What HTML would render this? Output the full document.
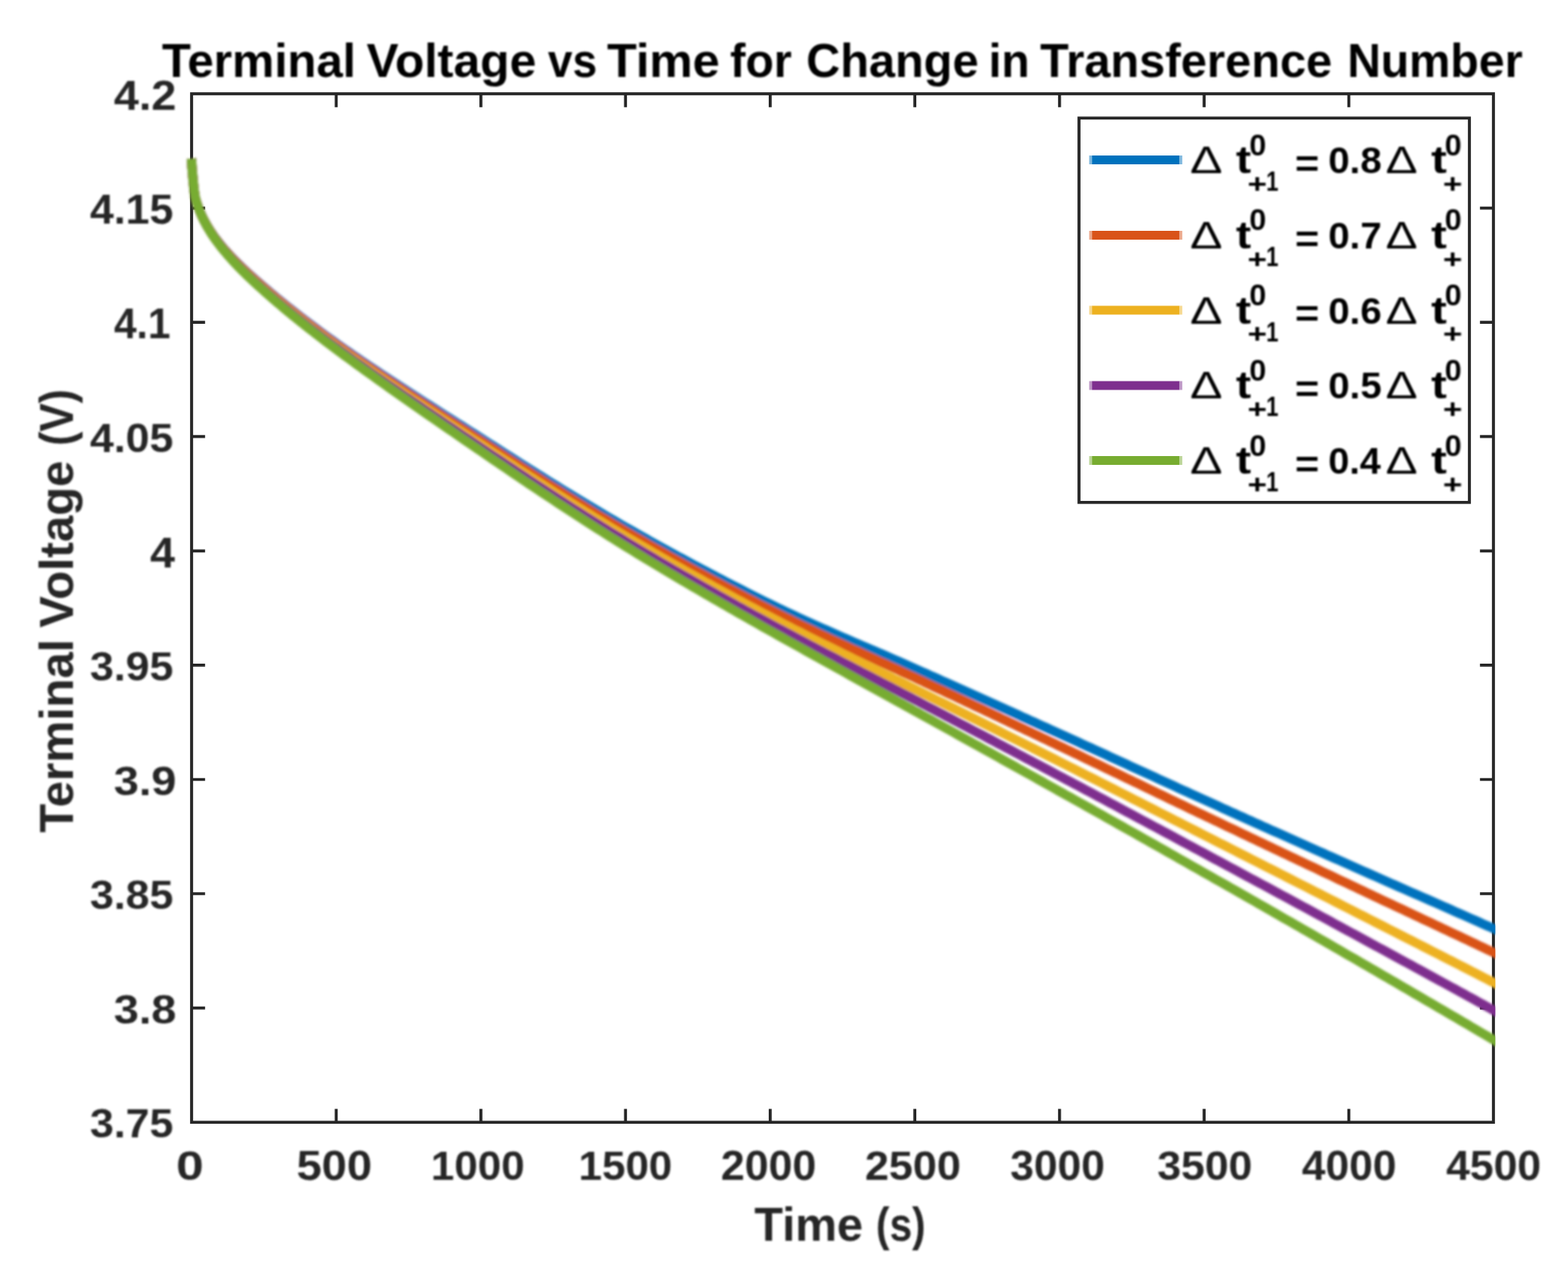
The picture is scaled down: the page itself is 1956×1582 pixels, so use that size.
<!DOCTYPE html>
<html lang="en"><head><meta charset="utf-8"><title>Terminal Voltage vs Time for Change in Transference Number</title>
<style>
html,body{margin:0;padding:0;background:#fff;}
body{width:1956px;height:1582px;overflow:hidden;}
svg{display:block;}
text{font-family:"Liberation Sans",sans-serif;font-weight:bold;white-space:pre;}
.tk{font-size:52.4px;fill:#262626;}
.lb{font-size:57.6px;fill:#262626;}
.tt{font-size:57.6px;fill:#000;}
.lg{font-size:48.0px;fill:#000;}
.ss{font-size:37.0px;fill:#000;}
.dl{font-weight:normal;font-size:48.0px;fill:#000;}
</style></head><body>
<svg width="1956" height="1582" viewBox="0 0 1956 1582" role="img" aria-label="Terminal Voltage vs Time for Change in Transference Number">
<defs><filter id="bt" x="-5%" y="-5%" width="110%" height="110%"><feGaussianBlur stdDeviation="1.0"/></filter><filter id="bc" x="-5%" y="-5%" width="110%" height="110%"><feGaussianBlur stdDeviation="1.8"/></filter></defs>
<rect x="0" y="0" width="1956" height="1582" fill="#fff"/>
<g stroke="#262626" stroke-width="3.7" fill="none">
<rect x="239.0" y="117.0" width="1624.0" height="1283.2"/>
<path d="M419.4 1400.2 v-16.8 M419.4 117.0 v16.8 M599.9 1400.2 v-16.8 M599.9 117.0 v16.8 M780.3 1400.2 v-16.8 M780.3 117.0 v16.8 M960.8 1400.2 v-16.8 M960.8 117.0 v16.8 M1141.2 1400.2 v-16.8 M1141.2 117.0 v16.8 M1321.7 1400.2 v-16.8 M1321.7 117.0 v16.8 M1502.1 1400.2 v-16.8 M1502.1 117.0 v16.8 M1682.6 1400.2 v-16.8 M1682.6 117.0 v16.8 M239.0 259.6 h16.8 M1863.0 259.6 h-16.8 M239.0 402.2 h16.8 M1863.0 402.2 h-16.8 M239.0 544.7 h16.8 M1863.0 544.7 h-16.8 M239.0 687.3 h16.8 M1863.0 687.3 h-16.8 M239.0 829.9 h16.8 M1863.0 829.9 h-16.8 M239.0 972.5 h16.8 M1863.0 972.5 h-16.8 M239.0 1115.0 h16.8 M1863.0 1115.0 h-16.8 M239.0 1257.6 h16.8 M1863.0 1257.6 h-16.8"/>
</g>
<clipPath id="cp"><rect x="225" y="100" width="1640.4" height="1320"/></clipPath>
<g clip-path="url(#cp)"><g fill="none" stroke-width="11.6" stroke-linejoin="round" stroke-linecap="butt" filter="url(#bc)">
<path stroke="#0072BD" d="M238.8 198.0L239.0 201.0L239.2 204.0L239.4 207.0L239.6 210.0L239.9 213.0L240.1 215.9L240.4 218.9L240.6 221.9L240.9 224.9L241.2 227.9L241.5 230.9L241.8 233.8L242.1 236.8L242.5 239.8L243.0 242.8L243.4 245.7L243.6 246.7L244.4 249.5L245.2 252.1L246.0 254.6L246.8 256.9L247.6 259.1L248.4 261.2L249.2 263.1L250.0 265.0L250.8 266.8L251.6 268.6L252.4 270.3L253.2 271.9L254.0 273.5L254.8 275.1L255.6 276.6L256.4 278.0L257.2 279.4L258.0 280.8L258.8 282.2L259.6 283.5L260.4 284.8L262.4 288.0L264.4 291.0L266.4 293.9L268.4 296.6L270.4 299.3L272.4 301.9L274.4 304.4L276.4 306.8L278.4 309.2L280.4 311.5L282.4 313.7L284.4 315.9L286.4 318.1L288.4 320.2L290.4 322.3L292.4 324.3L294.4 326.4L296.4 328.3L298.4 330.3L300.4 332.2L302.4 334.1L304.4 336.0L306.4 337.9L308.4 339.7L310.4 341.5L312.4 343.3L314.4 345.1L316.4 346.9L318.4 348.7L320.4 350.4L322.4 352.2L324.4 353.9L326.4 355.6L328.4 357.3L330.4 359.0L332.4 360.8L334.4 362.4L336.4 364.1L338.4 365.8L340.4 367.5L342.4 369.1L344.4 370.8L346.4 372.5L348.4 374.1L350.4 375.7L352.4 377.4L354.4 379.0L356.4 380.6L358.4 382.2L360.4 383.8L362.4 385.4L364.4 387.0L366.4 388.5L368.4 390.1L370.4 391.7L372.4 393.2L374.4 394.8L376.4 396.3L378.4 397.9L380.4 399.4L382.4 400.9L384.4 402.5L386.4 404.0L388.4 405.5L390.4 407.0L392.4 408.5L394.4 410.0L396.4 411.5L398.4 413.0L400.4 414.4L405.4 418.1L410.4 421.7L415.4 425.3L420.4 428.9L425.4 432.4L430.4 436.0L435.4 439.4L440.4 442.9L445.4 446.3L450.4 449.8L455.4 453.1L460.4 456.5L465.4 459.9L470.4 463.2L475.4 466.5L480.4 469.8L485.4 473.1L490.4 476.4L495.4 479.7L500.4 482.9L505.4 486.2L510.4 489.4L515.4 492.7L520.4 495.9L525.4 499.1L530.4 502.3L535.4 505.5L540.4 508.7L545.4 511.9L550.4 515.1L555.4 518.3L560.4 521.4L565.4 524.6L570.4 527.8L575.4 531.0L580.4 534.2L585.4 537.4L590.4 540.5L595.4 543.7L600.4 546.9L605.4 550.1L610.4 553.3L615.4 556.5L620.4 559.7L625.4 562.9L630.4 566.1L635.4 569.2L640.4 572.4L645.4 575.6L650.4 578.8L655.4 581.9L660.4 585.1L665.4 588.2L670.4 591.4L675.4 594.5L680.4 597.6L685.4 600.8L690.4 603.9L695.4 607.0L700.4 610.1L705.4 613.1L710.4 616.2L715.4 619.3L720.4 622.3L725.4 625.3L730.4 628.3L735.4 631.3L740.4 634.3L745.4 637.3L750.4 640.3L755.4 643.2L760.4 646.2L765.4 649.1L770.4 652.0L775.4 654.9L780.4 657.7L785.4 660.6L790.4 663.4L795.4 666.3L800.4 669.1L805.4 671.9L810.4 674.7L815.4 677.5L820.4 680.3L825.4 683.0L830.4 685.8L835.4 688.5L840.4 691.3L845.4 694.0L850.4 696.7L855.4 699.4L860.4 702.1L865.4 704.8L870.4 707.4L875.4 710.1L880.4 712.7L885.4 715.4L890.4 718.0L895.4 720.6L900.4 723.2L905.4 725.8L910.4 728.4L915.4 730.9L920.4 733.5L925.4 736.0L930.4 738.6L935.4 741.1L940.4 743.6L945.4 746.1L950.4 748.6L955.4 751.1L960.4 753.5L965.4 756.0L970.4 758.4L975.4 760.8L980.4 763.2L985.4 765.5L990.4 767.8L995.4 770.2L1000.4 772.5L1005.4 774.7L1010.4 777.0L1015.4 779.2L1020.4 781.5L1025.4 783.7L1030.4 785.9L1035.4 788.1L1040.4 790.3L1045.4 792.5L1050.4 794.7L1055.4 796.8L1060.4 799.0L1065.4 801.2L1070.4 803.3L1075.4 805.5L1080.4 807.6L1085.4 809.8L1090.4 811.9L1095.4 814.1L1100.4 816.2L1105.4 818.4L1110.4 820.6L1115.4 822.8L1120.4 824.9L1125.4 827.1L1130.4 829.3L1135.4 831.5L1140.4 833.7L1145.4 836.0L1150.4 838.2L1155.4 840.4L1160.4 842.7L1165.4 844.9L1170.4 847.1L1175.4 849.4L1180.4 851.6L1185.4 853.8L1190.4 856.1L1195.4 858.3L1200.4 860.6L1205.4 862.8L1210.4 865.1L1215.4 867.3L1220.4 869.6L1225.4 871.8L1230.4 874.1L1235.4 876.3L1240.4 878.6L1245.4 880.8L1250.4 883.1L1255.4 885.3L1260.4 887.6L1265.4 889.8L1270.4 892.1L1275.4 894.4L1280.4 896.6L1285.4 898.9L1290.4 901.1L1295.4 903.4L1300.4 905.7L1305.4 907.9L1310.4 910.2L1315.4 912.5L1320.4 914.7L1325.4 917.0L1330.4 919.3L1335.4 921.5L1340.4 923.8L1345.4 926.1L1350.4 928.4L1355.4 930.7L1360.4 932.9L1365.4 935.2L1370.4 937.5L1375.4 939.8L1380.4 942.1L1385.4 944.4L1390.4 946.7L1395.4 949.0L1400.4 951.3L1405.4 953.6L1410.4 955.9L1415.4 958.2L1420.4 960.5L1425.4 962.8L1430.4 965.1L1435.4 967.3L1440.4 969.6L1445.4 971.9L1450.4 974.2L1455.4 976.5L1460.4 978.8L1465.4 981.1L1470.4 983.4L1475.4 985.7L1480.4 987.9L1485.4 990.2L1490.4 992.5L1495.4 994.8L1500.4 997.0L1505.4 999.3L1510.4 1001.6L1515.4 1003.8L1520.4 1006.1L1525.4 1008.4L1530.4 1010.6L1535.4 1012.9L1540.4 1015.1L1545.4 1017.4L1550.4 1019.6L1555.4 1021.9L1560.4 1024.1L1565.4 1026.4L1570.4 1028.6L1575.4 1030.9L1580.4 1033.1L1585.4 1035.4L1590.4 1037.6L1595.4 1039.8L1600.4 1042.1L1605.4 1044.3L1610.4 1046.6L1615.4 1048.8L1620.4 1051.0L1625.4 1053.3L1630.4 1055.5L1635.4 1057.7L1640.4 1060.0L1645.4 1062.2L1650.4 1064.4L1655.4 1066.7L1660.4 1068.9L1665.4 1071.1L1670.4 1073.3L1675.4 1075.6L1680.4 1077.8L1685.4 1080.0L1690.4 1082.3L1695.4 1084.5L1700.4 1086.7L1705.4 1088.9L1710.4 1091.1L1715.4 1093.3L1720.4 1095.5L1725.4 1097.7L1730.4 1100.0L1735.4 1102.2L1740.4 1104.4L1745.4 1106.6L1750.4 1108.8L1755.4 1111.0L1760.4 1113.2L1765.4 1115.3L1770.4 1117.5L1775.4 1119.7L1780.4 1121.9L1785.4 1124.1L1790.4 1126.3L1795.4 1128.5L1800.4 1130.7L1805.4 1132.9L1810.4 1135.1L1815.4 1137.4L1820.4 1139.6L1825.4 1141.8L1830.4 1144.0L1835.4 1146.2L1840.4 1148.4L1845.4 1150.6L1850.4 1152.9L1855.4 1155.1L1860.4 1157.3L1863.0 1158.5L1880.0 1165.8"/>
<path stroke="#D95319" d="M238.8 198.0L239.0 201.0L239.2 204.0L239.4 207.0L239.6 210.0L239.9 213.0L240.1 216.0L240.4 218.9L240.6 221.9L240.9 224.9L241.2 227.9L241.5 230.9L241.8 233.9L242.1 236.9L242.5 239.8L243.0 242.8L243.4 245.8L243.6 246.7L244.4 249.6L245.2 252.2L246.0 254.7L246.8 257.0L247.6 259.2L248.4 261.3L249.2 263.3L250.0 265.2L250.8 267.0L251.6 268.8L252.4 270.5L253.2 272.1L254.0 273.7L254.8 275.3L255.6 276.8L256.4 278.2L257.2 279.7L258.0 281.1L258.8 282.4L259.6 283.8L260.4 285.1L262.4 288.3L264.4 291.3L266.4 294.2L268.4 297.0L270.4 299.7L272.4 302.3L274.4 304.8L276.4 307.3L278.4 309.7L280.4 312.0L282.4 314.3L284.4 316.5L286.4 318.7L288.4 320.9L290.4 323.0L292.4 325.0L294.4 327.1L296.4 329.1L298.4 331.0L300.4 333.0L302.4 334.9L304.4 336.8L306.4 338.7L308.4 340.6L310.4 342.4L312.4 344.2L314.4 346.1L316.4 347.9L318.4 349.6L320.4 351.4L322.4 353.2L324.4 354.9L326.4 356.7L328.4 358.4L330.4 360.1L332.4 361.9L334.4 363.6L336.4 365.3L338.4 367.0L340.4 368.6L342.4 370.3L344.4 372.0L346.4 373.7L348.4 375.3L350.4 377.0L352.4 378.6L354.4 380.2L356.4 381.9L358.4 383.5L360.4 385.1L362.4 386.7L364.4 388.3L366.4 389.9L368.4 391.4L370.4 393.0L372.4 394.6L374.4 396.2L376.4 397.7L378.4 399.3L380.4 400.8L382.4 402.3L384.4 403.9L386.4 405.4L388.4 406.9L390.4 408.4L392.4 410.0L394.4 411.5L396.4 413.0L398.4 414.5L400.4 415.9L405.4 419.6L410.4 423.3L415.4 426.9L420.4 430.6L425.4 434.1L430.4 437.7L435.4 441.2L440.4 444.7L445.4 448.2L450.4 451.7L455.4 455.1L460.4 458.5L465.4 461.9L470.4 465.3L475.4 468.7L480.4 472.1L485.4 475.4L490.4 478.7L495.4 482.1L500.4 485.4L505.4 488.7L510.4 492.0L515.4 495.2L520.4 498.5L525.4 501.8L530.4 505.1L535.4 508.3L540.4 511.6L545.4 514.8L550.4 518.1L555.4 521.3L560.4 524.6L565.4 527.8L570.4 531.0L575.4 534.3L580.4 537.5L585.4 540.7L590.4 544.0L595.4 547.2L600.4 550.4L605.4 553.7L610.4 556.9L615.4 560.2L620.4 563.4L625.4 566.6L630.4 569.9L635.4 573.1L640.4 576.3L645.4 579.5L650.4 582.8L655.4 586.0L660.4 589.2L665.4 592.4L670.4 595.5L675.4 598.7L680.4 601.9L685.4 605.1L690.4 608.2L695.4 611.3L700.4 614.5L705.4 617.6L710.4 620.7L715.4 623.8L720.4 626.9L725.4 630.0L730.4 633.0L735.4 636.1L740.4 639.1L745.4 642.1L750.4 645.2L755.4 648.1L760.4 651.1L765.4 654.1L770.4 657.0L775.4 660.0L780.4 662.9L785.4 665.8L790.4 668.7L795.4 671.6L800.4 674.4L805.4 677.3L810.4 680.2L815.4 683.0L820.4 685.8L825.4 688.6L830.4 691.4L835.4 694.2L840.4 697.0L845.4 699.8L850.4 702.5L855.4 705.3L860.4 708.0L865.4 710.8L870.4 713.5L875.4 716.2L880.4 718.9L885.4 721.6L890.4 724.3L895.4 726.9L900.4 729.6L905.4 732.3L910.4 734.9L915.4 737.5L920.4 740.1L925.4 742.7L930.4 745.3L935.4 747.9L940.4 750.5L945.4 753.1L950.4 755.6L955.4 758.2L960.4 760.7L965.4 763.2L970.4 765.7L975.4 768.2L980.4 770.7L985.4 773.1L990.4 775.6L995.4 778.0L1000.4 780.4L1005.4 782.8L1010.4 785.1L1015.4 787.5L1020.4 789.9L1025.4 792.2L1030.4 794.5L1035.4 796.9L1040.4 799.2L1045.4 801.5L1050.4 803.8L1055.4 806.1L1060.4 808.4L1065.4 810.7L1070.4 812.9L1075.4 815.2L1080.4 817.5L1085.4 819.8L1090.4 822.1L1095.4 824.4L1100.4 826.7L1105.4 828.9L1110.4 831.2L1115.4 833.5L1120.4 835.8L1125.4 838.2L1130.4 840.5L1135.4 842.8L1140.4 845.1L1145.4 847.5L1150.4 849.8L1155.4 852.2L1160.4 854.5L1165.4 856.9L1170.4 859.2L1175.4 861.5L1180.4 863.9L1185.4 866.3L1190.4 868.6L1195.4 871.0L1200.4 873.3L1205.4 875.7L1210.4 878.0L1215.4 880.4L1220.4 882.8L1225.4 885.1L1230.4 887.5L1235.4 889.8L1240.4 892.2L1245.4 894.6L1250.4 896.9L1255.4 899.3L1260.4 901.7L1265.4 904.0L1270.4 906.4L1275.4 908.8L1280.4 911.2L1285.4 913.5L1290.4 915.9L1295.4 918.3L1300.4 920.7L1305.4 923.0L1310.4 925.4L1315.4 927.8L1320.4 930.2L1325.4 932.6L1330.4 934.9L1335.4 937.3L1340.4 939.7L1345.4 942.1L1350.4 944.5L1355.4 946.9L1360.4 949.3L1365.4 951.7L1370.4 954.1L1375.4 956.5L1380.4 958.9L1385.4 961.3L1390.4 963.7L1395.4 966.1L1400.4 968.5L1405.4 970.9L1410.4 973.3L1415.4 975.7L1420.4 978.1L1425.4 980.5L1430.4 982.9L1435.4 985.4L1440.4 987.8L1445.4 990.2L1450.4 992.6L1455.4 995.0L1460.4 997.4L1465.4 999.8L1470.4 1002.2L1475.4 1004.6L1480.4 1007.0L1485.4 1009.4L1490.4 1011.8L1495.4 1014.2L1500.4 1016.6L1505.4 1019.0L1510.4 1021.3L1515.4 1023.7L1520.4 1026.1L1525.4 1028.5L1530.4 1030.9L1535.4 1033.3L1540.4 1035.6L1545.4 1038.0L1550.4 1040.4L1555.4 1042.8L1560.4 1045.2L1565.4 1047.5L1570.4 1049.9L1575.4 1052.3L1580.4 1054.7L1585.4 1057.1L1590.4 1059.4L1595.4 1061.8L1600.4 1064.2L1605.4 1066.5L1610.4 1068.9L1615.4 1071.3L1620.4 1073.7L1625.4 1076.0L1630.4 1078.4L1635.4 1080.8L1640.4 1083.1L1645.4 1085.5L1650.4 1087.9L1655.4 1090.3L1660.4 1092.6L1665.4 1095.0L1670.4 1097.4L1675.4 1099.7L1680.4 1102.1L1685.4 1104.5L1690.4 1106.8L1695.4 1109.2L1700.4 1111.6L1705.4 1113.9L1710.4 1116.3L1715.4 1118.7L1720.4 1121.0L1725.4 1123.4L1730.4 1125.7L1735.4 1128.1L1740.4 1130.4L1745.4 1132.8L1750.4 1135.1L1755.4 1137.5L1760.4 1139.8L1765.4 1142.2L1770.4 1144.5L1775.4 1146.9L1780.4 1149.2L1785.4 1151.6L1790.4 1153.9L1795.4 1156.3L1800.4 1158.7L1805.4 1161.0L1810.4 1163.4L1815.4 1165.7L1820.4 1168.1L1825.4 1170.5L1830.4 1172.8L1835.4 1175.2L1840.4 1177.6L1845.4 1179.9L1850.4 1182.3L1855.4 1184.7L1860.4 1187.1L1863.0 1188.3L1880.0 1196.2"/>
<path stroke="#EDB120" d="M238.8 198.0L239.0 201.0L239.2 204.0L239.4 207.0L239.6 210.0L239.9 213.0L240.1 216.0L240.4 219.0L240.6 222.0L240.9 224.9L241.2 227.9L241.5 230.9L241.8 233.9L242.1 236.9L242.5 239.9L243.0 242.9L243.4 245.9L243.6 246.8L244.4 249.7L245.2 252.3L246.0 254.8L246.8 257.1L247.6 259.3L248.4 261.4L249.2 263.4L250.0 265.3L250.8 267.2L251.6 269.0L252.4 270.7L253.2 272.3L254.0 273.9L254.8 275.5L255.6 277.0L256.4 278.5L257.2 280.0L258.0 281.4L258.8 282.8L259.6 284.1L260.4 285.4L262.4 288.6L264.4 291.7L266.4 294.6L268.4 297.5L270.4 300.2L272.4 302.8L274.4 305.4L276.4 307.9L278.4 310.3L280.4 312.7L282.4 315.0L284.4 317.3L286.4 319.5L288.4 321.7L290.4 323.8L292.4 325.9L294.4 328.0L296.4 330.0L298.4 332.0L300.4 334.0L302.4 335.9L304.4 337.9L306.4 339.8L308.4 341.7L310.4 343.5L312.4 345.4L314.4 347.2L316.4 349.1L318.4 350.9L320.4 352.7L322.4 354.5L324.4 356.2L326.4 358.0L328.4 359.8L330.4 361.5L332.4 363.2L334.4 365.0L336.4 366.7L338.4 368.4L340.4 370.1L342.4 371.8L344.4 373.5L346.4 375.2L348.4 376.8L350.4 378.5L352.4 380.2L354.4 381.8L356.4 383.4L358.4 385.1L360.4 386.7L362.4 388.3L364.4 389.9L366.4 391.5L368.4 393.1L370.4 394.7L372.4 396.3L374.4 397.9L376.4 399.4L378.4 401.0L380.4 402.6L382.4 404.1L384.4 405.7L386.4 407.2L388.4 408.7L390.4 410.3L392.4 411.8L394.4 413.3L396.4 414.8L398.4 416.3L400.4 417.8L405.4 421.6L410.4 425.3L415.4 429.0L420.4 432.6L425.4 436.2L430.4 439.8L435.4 443.4L440.4 447.0L445.4 450.5L450.4 454.0L455.4 457.5L460.4 461.0L465.4 464.5L470.4 468.0L475.4 471.4L480.4 474.8L485.4 478.2L490.4 481.6L495.4 485.0L500.4 488.4L505.4 491.8L510.4 495.2L515.4 498.5L520.4 501.9L525.4 505.2L530.4 508.5L535.4 511.9L540.4 515.2L545.4 518.5L550.4 521.8L555.4 525.1L560.4 528.5L565.4 531.8L570.4 535.1L575.4 538.4L580.4 541.7L585.4 545.0L590.4 548.3L595.4 551.6L600.4 554.9L605.4 558.2L610.4 561.5L615.4 564.8L620.4 568.1L625.4 571.4L630.4 574.7L635.4 577.9L640.4 581.2L645.4 584.5L650.4 587.8L655.4 591.0L660.4 594.3L665.4 597.5L670.4 600.8L675.4 604.0L680.4 607.2L685.4 610.4L690.4 613.7L695.4 616.9L700.4 620.0L705.4 623.2L710.4 626.4L715.4 629.5L720.4 632.7L725.4 635.8L730.4 638.9L735.4 642.0L740.4 645.1L745.4 648.2L750.4 651.3L755.4 654.3L760.4 657.4L765.4 660.4L770.4 663.4L775.4 666.4L780.4 669.4L785.4 672.4L790.4 675.3L795.4 678.3L800.4 681.2L805.4 684.1L810.4 687.0L815.4 689.9L820.4 692.8L825.4 695.7L830.4 698.5L835.4 701.4L840.4 704.2L845.4 707.1L850.4 709.9L855.4 712.7L860.4 715.5L865.4 718.3L870.4 721.1L875.4 723.9L880.4 726.7L885.4 729.4L890.4 732.2L895.4 734.9L900.4 737.6L905.4 740.4L910.4 743.1L915.4 745.8L920.4 748.5L925.4 751.2L930.4 753.8L935.4 756.5L940.4 759.2L945.4 761.8L950.4 764.5L955.4 767.1L960.4 769.7L965.4 772.4L970.4 775.0L975.4 777.6L980.4 780.1L985.4 782.7L990.4 785.3L995.4 787.8L1000.4 790.3L1005.4 792.9L1010.4 795.4L1015.4 797.9L1020.4 800.4L1025.4 802.9L1030.4 805.3L1035.4 807.8L1040.4 810.3L1045.4 812.8L1050.4 815.2L1055.4 817.7L1060.4 820.1L1065.4 822.6L1070.4 825.0L1075.4 827.5L1080.4 829.9L1085.4 832.4L1090.4 834.8L1095.4 837.3L1100.4 839.7L1105.4 842.2L1110.4 844.6L1115.4 847.1L1120.4 849.5L1125.4 852.0L1130.4 854.5L1135.4 856.9L1140.4 859.4L1145.4 861.9L1150.4 864.4L1155.4 866.9L1160.4 869.4L1165.4 871.9L1170.4 874.4L1175.4 876.8L1180.4 879.3L1185.4 881.8L1190.4 884.3L1195.4 886.8L1200.4 889.3L1205.4 891.8L1210.4 894.3L1215.4 896.8L1220.4 899.3L1225.4 901.8L1230.4 904.3L1235.4 906.8L1240.4 909.3L1245.4 911.8L1250.4 914.4L1255.4 916.9L1260.4 919.4L1265.4 921.9L1270.4 924.4L1275.4 926.9L1280.4 929.4L1285.4 931.9L1290.4 934.5L1295.4 937.0L1300.4 939.5L1305.4 942.0L1310.4 944.5L1315.4 947.0L1320.4 949.6L1325.4 952.1L1330.4 954.6L1335.4 957.1L1340.4 959.7L1345.4 962.2L1350.4 964.7L1355.4 967.3L1360.4 969.8L1365.4 972.3L1370.4 974.9L1375.4 977.4L1380.4 980.0L1385.4 982.5L1390.4 985.0L1395.4 987.6L1400.4 990.1L1405.4 992.7L1410.4 995.2L1415.4 997.8L1420.4 1000.3L1425.4 1002.9L1430.4 1005.4L1435.4 1008.0L1440.4 1010.5L1445.4 1013.1L1450.4 1015.6L1455.4 1018.2L1460.4 1020.7L1465.4 1023.3L1470.4 1025.8L1475.4 1028.4L1480.4 1030.9L1485.4 1033.4L1490.4 1036.0L1495.4 1038.5L1500.4 1041.1L1505.4 1043.6L1510.4 1046.2L1515.4 1048.7L1520.4 1051.3L1525.4 1053.8L1530.4 1056.3L1535.4 1058.9L1540.4 1061.4L1545.4 1064.0L1550.4 1066.5L1555.4 1069.0L1560.4 1071.6L1565.4 1074.1L1570.4 1076.7L1575.4 1079.2L1580.4 1081.8L1585.4 1084.3L1590.4 1086.8L1595.4 1089.4L1600.4 1091.9L1605.4 1094.5L1610.4 1097.0L1615.4 1099.6L1620.4 1102.1L1625.4 1104.6L1630.4 1107.2L1635.4 1109.7L1640.4 1112.3L1645.4 1114.8L1650.4 1117.4L1655.4 1119.9L1660.4 1122.4L1665.4 1125.0L1670.4 1127.5L1675.4 1130.1L1680.4 1132.6L1685.4 1135.2L1690.4 1137.7L1695.4 1140.3L1700.4 1142.8L1705.4 1145.4L1710.4 1147.9L1715.4 1150.5L1720.4 1153.0L1725.4 1155.5L1730.4 1158.1L1735.4 1160.6L1740.4 1163.2L1745.4 1165.7L1750.4 1168.2L1755.4 1170.8L1760.4 1173.3L1765.4 1175.9L1770.4 1178.4L1775.4 1181.0L1780.4 1183.5L1785.4 1186.1L1790.4 1188.6L1795.4 1191.2L1800.4 1193.7L1805.4 1196.3L1810.4 1198.8L1815.4 1201.4L1820.4 1203.9L1825.4 1206.5L1830.4 1209.0L1835.4 1211.6L1840.4 1214.2L1845.4 1216.7L1850.4 1219.3L1855.4 1221.9L1860.4 1224.5L1863.0 1225.8L1880.0 1234.4"/>
<path stroke="#7E2F8E" d="M238.8 198.0L239.0 201.0L239.2 204.0L239.4 207.0L239.6 210.0L239.9 213.0L240.1 216.0L240.4 219.0L240.6 222.0L240.9 225.0L241.2 228.0L241.5 231.0L241.8 234.0L242.1 237.0L242.5 239.9L243.0 242.9L243.4 245.9L243.6 246.8L244.4 249.7L245.2 252.4L246.0 254.9L246.8 257.2L247.6 259.4L248.4 261.6L249.2 263.6L250.0 265.5L250.8 267.3L251.6 269.1L252.4 270.9L253.2 272.5L254.0 274.2L254.8 275.7L255.6 277.3L256.4 278.8L257.2 280.2L258.0 281.7L258.8 283.1L259.6 284.4L260.4 285.8L262.4 289.0L264.4 292.1L266.4 295.0L268.4 297.9L270.4 300.7L272.4 303.3L274.4 305.9L276.4 308.5L278.4 310.9L280.4 313.3L282.4 315.7L284.4 317.9L286.4 320.2L288.4 322.4L290.4 324.6L292.4 326.7L294.4 328.8L296.4 330.8L298.4 332.9L300.4 334.9L302.4 336.9L304.4 338.8L306.4 340.8L308.4 342.7L310.4 344.6L312.4 346.5L314.4 348.3L316.4 350.2L318.4 352.0L320.4 353.8L322.4 355.6L324.4 357.4L326.4 359.2L328.4 361.0L330.4 362.8L332.4 364.5L334.4 366.3L336.4 368.0L338.4 369.7L340.4 371.4L342.4 373.2L344.4 374.9L346.4 376.6L348.4 378.2L350.4 379.9L352.4 381.6L354.4 383.2L356.4 384.9L358.4 386.5L360.4 388.2L362.4 389.8L364.4 391.4L366.4 393.1L368.4 394.7L370.4 396.3L372.4 397.9L374.4 399.4L376.4 401.0L378.4 402.6L380.4 404.2L382.4 405.7L384.4 407.3L386.4 408.9L388.4 410.4L390.4 411.9L392.4 413.5L394.4 415.0L396.4 416.5L398.4 418.1L400.4 419.6L405.4 423.4L410.4 427.1L415.4 430.8L420.4 434.5L425.4 438.2L430.4 441.8L435.4 445.5L440.4 449.1L445.4 452.7L450.4 456.3L455.4 459.8L460.4 463.4L465.4 466.9L470.4 470.4L475.4 473.9L480.4 477.4L485.4 480.9L490.4 484.3L495.4 487.8L500.4 491.2L505.4 494.7L510.4 498.1L515.4 501.5L520.4 504.9L525.4 508.3L530.4 511.7L535.4 515.1L540.4 518.5L545.4 521.9L550.4 525.3L555.4 528.7L560.4 532.1L565.4 535.4L570.4 538.8L575.4 542.2L580.4 545.5L585.4 548.9L590.4 552.3L595.4 555.6L600.4 559.0L605.4 562.3L610.4 565.7L615.4 569.0L620.4 572.4L625.4 575.7L630.4 579.1L635.4 582.4L640.4 585.7L645.4 589.1L650.4 592.4L655.4 595.7L660.4 599.0L665.4 602.3L670.4 605.6L675.4 608.9L680.4 612.2L685.4 615.4L690.4 618.7L695.4 621.9L700.4 625.2L705.4 628.4L710.4 631.6L715.4 634.8L720.4 638.0L725.4 641.2L730.4 644.4L735.4 647.5L740.4 650.7L745.4 653.8L750.4 656.9L755.4 660.0L760.4 663.1L765.4 666.2L770.4 669.3L775.4 672.3L780.4 675.4L785.4 678.4L790.4 681.4L795.4 684.4L800.4 687.4L805.4 690.4L810.4 693.3L815.4 696.3L820.4 699.2L825.4 702.2L830.4 705.1L835.4 708.0L840.4 710.9L845.4 713.8L850.4 716.7L855.4 719.6L860.4 722.4L865.4 725.3L870.4 728.1L875.4 731.0L880.4 733.8L885.4 736.6L890.4 739.4L895.4 742.2L900.4 745.0L905.4 747.8L910.4 750.6L915.4 753.4L920.4 756.2L925.4 758.9L930.4 761.7L935.4 764.4L940.4 767.2L945.4 769.9L950.4 772.6L955.4 775.4L960.4 778.1L965.4 780.8L970.4 783.5L975.4 786.2L980.4 788.9L985.4 791.5L990.4 794.2L995.4 796.9L1000.4 799.5L1005.4 802.2L1010.4 804.8L1015.4 807.4L1020.4 810.1L1025.4 812.7L1030.4 815.3L1035.4 817.9L1040.4 820.5L1045.4 823.2L1050.4 825.8L1055.4 828.4L1060.4 831.0L1065.4 833.6L1070.4 836.2L1075.4 838.8L1080.4 841.4L1085.4 844.0L1090.4 846.6L1095.4 849.2L1100.4 851.8L1105.4 854.4L1110.4 857.0L1115.4 859.6L1120.4 862.2L1125.4 864.8L1130.4 867.4L1135.4 870.0L1140.4 872.6L1145.4 875.2L1150.4 877.8L1155.4 880.5L1160.4 883.1L1165.4 885.7L1170.4 888.3L1175.4 890.9L1180.4 893.6L1185.4 896.2L1190.4 898.8L1195.4 901.5L1200.4 904.1L1205.4 906.7L1210.4 909.3L1215.4 912.0L1220.4 914.6L1225.4 917.2L1230.4 919.9L1235.4 922.5L1240.4 925.1L1245.4 927.8L1250.4 930.4L1255.4 933.1L1260.4 935.7L1265.4 938.3L1270.4 941.0L1275.4 943.6L1280.4 946.3L1285.4 948.9L1290.4 951.6L1295.4 954.2L1300.4 956.9L1305.4 959.5L1310.4 962.2L1315.4 964.8L1320.4 967.5L1325.4 970.1L1330.4 972.8L1335.4 975.4L1340.4 978.1L1345.4 980.7L1350.4 983.4L1355.4 986.1L1360.4 988.7L1365.4 991.4L1370.4 994.1L1375.4 996.7L1380.4 999.4L1385.4 1002.1L1390.4 1004.7L1395.4 1007.4L1400.4 1010.1L1405.4 1012.8L1410.4 1015.4L1415.4 1018.1L1420.4 1020.8L1425.4 1023.5L1430.4 1026.1L1435.4 1028.8L1440.4 1031.5L1445.4 1034.2L1450.4 1036.9L1455.4 1039.5L1460.4 1042.2L1465.4 1044.9L1470.4 1047.6L1475.4 1050.3L1480.4 1053.0L1485.4 1055.6L1490.4 1058.3L1495.4 1061.0L1500.4 1063.7L1505.4 1066.4L1510.4 1069.1L1515.4 1071.8L1520.4 1074.4L1525.4 1077.1L1530.4 1079.8L1535.4 1082.5L1540.4 1085.2L1545.4 1087.9L1550.4 1090.6L1555.4 1093.3L1560.4 1096.0L1565.4 1098.7L1570.4 1101.3L1575.4 1104.0L1580.4 1106.7L1585.4 1109.4L1590.4 1112.1L1595.4 1114.8L1600.4 1117.5L1605.4 1120.2L1610.4 1122.9L1615.4 1125.6L1620.4 1128.3L1625.4 1131.0L1630.4 1133.7L1635.4 1136.4L1640.4 1139.1L1645.4 1141.8L1650.4 1144.5L1655.4 1147.2L1660.4 1149.9L1665.4 1152.7L1670.4 1155.4L1675.4 1158.1L1680.4 1160.8L1685.4 1163.5L1690.4 1166.2L1695.4 1168.9L1700.4 1171.6L1705.4 1174.4L1710.4 1177.1L1715.4 1179.8L1720.4 1182.5L1725.4 1185.2L1730.4 1187.9L1735.4 1190.6L1740.4 1193.4L1745.4 1196.1L1750.4 1198.8L1755.4 1201.5L1760.4 1204.2L1765.4 1207.0L1770.4 1209.7L1775.4 1212.4L1780.4 1215.1L1785.4 1217.9L1790.4 1220.6L1795.4 1223.3L1800.4 1226.0L1805.4 1228.8L1810.4 1231.5L1815.4 1234.2L1820.4 1237.0L1825.4 1239.7L1830.4 1242.5L1835.4 1245.2L1840.4 1247.9L1845.4 1250.7L1850.4 1253.4L1855.4 1256.2L1860.4 1258.9L1863.0 1260.4L1880.0 1269.7"/>
<path stroke="#77AC30" d="M238.8 198.0L239.0 201.0L239.2 204.0L239.4 207.0L239.6 210.0L239.9 213.0L240.1 216.0L240.4 219.0L240.6 222.0L240.9 225.0L241.2 228.0L241.5 231.0L241.8 234.0L242.1 237.0L242.5 240.0L243.0 243.0L243.4 246.0L243.6 246.9L244.4 249.8L245.2 252.5L246.0 255.0L246.8 257.4L247.6 259.6L248.4 261.7L249.2 263.7L250.0 265.7L250.8 267.5L251.6 269.3L252.4 271.1L253.2 272.8L254.0 274.4L254.8 276.0L255.6 277.5L256.4 279.0L257.2 280.5L258.0 282.0L258.8 283.4L259.6 284.7L260.4 286.1L262.4 289.4L264.4 292.5L266.4 295.5L268.4 298.4L270.4 301.2L272.4 303.9L274.4 306.5L276.4 309.1L278.4 311.5L280.4 314.0L282.4 316.3L284.4 318.7L286.4 320.9L288.4 323.2L290.4 325.4L292.4 327.5L294.4 329.7L296.4 331.8L298.4 333.8L300.4 335.9L302.4 337.9L304.4 339.9L306.4 341.8L308.4 343.8L310.4 345.7L312.4 347.6L314.4 349.5L316.4 351.4L318.4 353.2L320.4 355.1L322.4 356.9L324.4 358.7L326.4 360.5L328.4 362.3L330.4 364.1L332.4 365.9L334.4 367.6L336.4 369.4L338.4 371.1L340.4 372.9L342.4 374.6L344.4 376.3L346.4 378.0L348.4 379.7L350.4 381.4L352.4 383.1L354.4 384.8L356.4 386.5L358.4 388.1L360.4 389.8L362.4 391.4L364.4 393.1L366.4 394.7L368.4 396.3L370.4 397.9L372.4 399.5L374.4 401.1L376.4 402.7L378.4 404.3L380.4 405.9L382.4 407.5L384.4 409.1L386.4 410.6L388.4 412.2L390.4 413.7L392.4 415.3L394.4 416.8L396.4 418.4L398.4 419.9L400.4 421.5L405.4 425.3L410.4 429.1L415.4 432.8L420.4 436.6L425.4 440.3L430.4 444.0L435.4 447.7L440.4 451.3L445.4 455.0L450.4 458.6L455.4 462.2L460.4 465.8L465.4 469.4L470.4 473.0L475.4 476.6L480.4 480.1L485.4 483.7L490.4 487.2L495.4 490.7L500.4 494.2L505.4 497.7L510.4 501.2L515.4 504.7L520.4 508.2L525.4 511.7L530.4 515.2L535.4 518.6L540.4 522.1L545.4 525.6L550.4 529.0L555.4 532.5L560.4 535.9L565.4 539.3L570.4 542.8L575.4 546.2L580.4 549.6L585.4 553.1L590.4 556.5L595.4 559.9L600.4 563.3L605.4 566.8L610.4 570.2L615.4 573.6L620.4 577.0L625.4 580.4L630.4 583.8L635.4 587.2L640.4 590.6L645.4 594.0L650.4 597.3L655.4 600.7L660.4 604.1L665.4 607.4L670.4 610.8L675.4 614.1L680.4 617.4L685.4 620.7L690.4 624.0L695.4 627.3L700.4 630.6L705.4 633.9L710.4 637.2L715.4 640.4L720.4 643.7L725.4 646.9L730.4 650.2L735.4 653.4L740.4 656.6L745.4 659.8L750.4 662.9L755.4 666.1L760.4 669.3L765.4 672.4L770.4 675.5L775.4 678.7L780.4 681.8L785.4 684.8L790.4 687.9L795.4 691.0L800.4 694.0L805.4 697.1L810.4 700.1L815.4 703.1L820.4 706.1L825.4 709.1L830.4 712.1L835.4 715.1L840.4 718.0L845.4 721.0L850.4 723.9L855.4 726.9L860.4 729.8L865.4 732.7L870.4 735.6L875.4 738.5L880.4 741.4L885.4 744.3L890.4 747.2L895.4 750.1L900.4 753.0L905.4 755.8L910.4 758.7L915.4 761.5L920.4 764.4L925.4 767.2L930.4 770.1L935.4 772.9L940.4 775.7L945.4 778.5L950.4 781.4L955.4 784.2L960.4 787.0L965.4 789.8L970.4 792.6L975.4 795.4L980.4 798.2L985.4 801.0L990.4 803.8L995.4 806.5L1000.4 809.3L1005.4 812.1L1010.4 814.9L1015.4 817.7L1020.4 820.4L1025.4 823.2L1030.4 826.0L1035.4 828.7L1040.4 831.5L1045.4 834.3L1050.4 837.0L1055.4 839.8L1060.4 842.6L1065.4 845.3L1070.4 848.1L1075.4 850.8L1080.4 853.6L1085.4 856.4L1090.4 859.1L1095.4 861.9L1100.4 864.6L1105.4 867.4L1110.4 870.1L1115.4 872.9L1120.4 875.7L1125.4 878.4L1130.4 881.2L1135.4 883.9L1140.4 886.7L1145.4 889.4L1150.4 892.2L1155.4 895.0L1160.4 897.7L1165.4 900.5L1170.4 903.3L1175.4 906.0L1180.4 908.8L1185.4 911.5L1190.4 914.3L1195.4 917.1L1200.4 919.8L1205.4 922.6L1210.4 925.4L1215.4 928.2L1220.4 930.9L1225.4 933.7L1230.4 936.5L1235.4 939.2L1240.4 942.0L1245.4 944.8L1250.4 947.6L1255.4 950.4L1260.4 953.1L1265.4 955.9L1270.4 958.7L1275.4 961.5L1280.4 964.3L1285.4 967.0L1290.4 969.8L1295.4 972.6L1300.4 975.4L1305.4 978.2L1310.4 981.0L1315.4 983.8L1320.4 986.6L1325.4 989.4L1330.4 992.2L1335.4 994.9L1340.4 997.7L1345.4 1000.5L1350.4 1003.3L1355.4 1006.1L1360.4 1008.9L1365.4 1011.7L1370.4 1014.5L1375.4 1017.3L1380.4 1020.2L1385.4 1023.0L1390.4 1025.8L1395.4 1028.6L1400.4 1031.4L1405.4 1034.2L1410.4 1037.0L1415.4 1039.8L1420.4 1042.6L1425.4 1045.5L1430.4 1048.3L1435.4 1051.1L1440.4 1053.9L1445.4 1056.7L1450.4 1059.6L1455.4 1062.4L1460.4 1065.2L1465.4 1068.0L1470.4 1070.9L1475.4 1073.7L1480.4 1076.5L1485.4 1079.4L1490.4 1082.2L1495.4 1085.0L1500.4 1087.9L1505.4 1090.7L1510.4 1093.5L1515.4 1096.4L1520.4 1099.2L1525.4 1102.1L1530.4 1104.9L1535.4 1107.7L1540.4 1110.6L1545.4 1113.4L1550.4 1116.3L1555.4 1119.1L1560.4 1122.0L1565.4 1124.8L1570.4 1127.7L1575.4 1130.6L1580.4 1133.4L1585.4 1136.3L1590.4 1139.1L1595.4 1142.0L1600.4 1144.9L1605.4 1147.7L1610.4 1150.6L1615.4 1153.5L1620.4 1156.3L1625.4 1159.2L1630.4 1162.1L1635.4 1164.9L1640.4 1167.8L1645.4 1170.7L1650.4 1173.6L1655.4 1176.4L1660.4 1179.3L1665.4 1182.2L1670.4 1185.1L1675.4 1188.0L1680.4 1190.9L1685.4 1193.7L1690.4 1196.6L1695.4 1199.5L1700.4 1202.4L1705.4 1205.3L1710.4 1208.2L1715.4 1211.1L1720.4 1214.0L1725.4 1216.9L1730.4 1219.8L1735.4 1222.7L1740.4 1225.6L1745.4 1228.5L1750.4 1231.4L1755.4 1234.3L1760.4 1237.2L1765.4 1240.2L1770.4 1243.1L1775.4 1246.0L1780.4 1248.9L1785.4 1251.8L1790.4 1254.7L1795.4 1257.7L1800.4 1260.6L1805.4 1263.5L1810.4 1266.4L1815.4 1269.3L1820.4 1272.3L1825.4 1275.2L1830.4 1278.1L1835.4 1281.1L1840.4 1284.0L1845.4 1286.9L1850.4 1289.9L1855.4 1292.8L1860.4 1295.8L1863.0 1297.3L1880.0 1307.3"/>
</g></g>
<rect x="1346" y="147.3" width="487" height="479.5" fill="#fff" stroke="#262626" stroke-width="3.7"/>
<path d="M1362.2 199.6 H1471.3" stroke="#0072BD" stroke-width="11" fill="none"/><path d="M1358.7 199.6 H1362.2M1471.3 199.6 H1474.8" stroke="#0072BD" stroke-width="11" stroke-opacity="0.5" fill="none"/>
<path d="M1362.2 293.4 H1471.3" stroke="#D95319" stroke-width="11" fill="none"/><path d="M1358.7 293.4 H1362.2M1471.3 293.4 H1474.8" stroke="#D95319" stroke-width="11" stroke-opacity="0.5" fill="none"/>
<path d="M1362.2 387.1 H1471.3" stroke="#EDB120" stroke-width="11" fill="none"/><path d="M1358.7 387.1 H1362.2M1471.3 387.1 H1474.8" stroke="#EDB120" stroke-width="11" stroke-opacity="0.5" fill="none"/>
<path d="M1362.2 480.9 H1471.3" stroke="#7E2F8E" stroke-width="11" fill="none"/><path d="M1358.7 480.9 H1362.2M1471.3 480.9 H1474.8" stroke="#7E2F8E" stroke-width="11" stroke-opacity="0.5" fill="none"/>
<path d="M1362.2 574.6 H1471.3" stroke="#77AC30" stroke-width="11" fill="none"/><path d="M1358.7 574.6 H1362.2M1471.3 574.6 H1474.8" stroke="#77AC30" stroke-width="11" stroke-opacity="0.5" fill="none"/>
<g filter="url(#bt)">
<text class="tt" transform="matrix(1.0268 0 0 1.0250 201.97 96.20)">Terminal</text>
<text class="tt" transform="matrix(1.0398 0 0 1.0250 457.16 96.20)">Voltage</text>
<text class="tt" transform="matrix(0.9565 0 0 1.0250 683.60 96.20)">vs</text>
<text class="tt" transform="matrix(1.0554 0 0 1.0250 757.14 96.20)">Time</text>
<text class="tt" transform="matrix(1.0040 0 0 1.0250 910.80 96.20)">for</text>
<text class="tt" transform="matrix(1.0174 0 0 1.0250 1005.87 96.20)">Change</text>
<text class="tt" transform="matrix(0.9977 0 0 1.0250 1233.21 96.20)">in</text>
<text class="tt" transform="matrix(1.0160 0 0 1.0250 1297.48 96.20)">Transference</text>
<text class="tt" transform="matrix(1.0052 0 0 1.0250 1680.68 96.20)">Number</text>
<text class="tk" transform="matrix(1.0714 0 0 0.9865 142.03 137.20)">4.2</text>
<text class="tk" transform="matrix(1.0192 0 0 0.9865 112.28 278.79)">4.15</text>
<text class="tk" transform="matrix(0.9671 0 0 1.0139 142.13 422.36)">4.1</text>
<text class="tk" transform="matrix(1.0192 0 0 0.9605 112.28 563.97)">4.05</text>
<text class="tk" transform="matrix(1.0643 0 0 1.0139 187.24 707.51)">4</text>
<text class="tk" transform="matrix(1.0192 0 0 0.9605 112.28 849.13)">3.95</text>
<text class="tk" transform="matrix(1.0714 0 0 0.9605 142.03 991.71)">3.9</text>
<text class="tk" transform="matrix(1.0192 0 0 0.9605 112.28 1134.28)">3.85</text>
<text class="tk" transform="matrix(1.0714 0 0 0.9605 142.03 1276.86)">3.8</text>
<text class="tk" transform="matrix(1.0192 0 0 0.9605 112.28 1419.44)">3.75</text>
<text class="tk" transform="matrix(1.1760 0 0 0.9711 219.75 1472.23)">0</text>
<text class="tk" transform="matrix(1.0759 0 0 0.9973 369.95 1472.20)">500</text>
<text class="tk" transform="matrix(1.0027 0 0 0.9711 537.59 1472.23)">1000</text>
<text class="tk" transform="matrix(1.0027 0 0 0.9711 721.69 1472.23)">1500</text>
<text class="tk" transform="matrix(1.0212 0 0 0.9711 899.16 1472.23)">2000</text>
<text class="tk" transform="matrix(1.0265 0 0 0.9711 1078.95 1472.23)">2500</text>
<text class="tk" transform="matrix(1.0123 0 0 0.9711 1260.19 1472.23)">3000</text>
<text class="tk" transform="matrix(1.0167 0 0 0.9711 1443.68 1472.23)">3500</text>
<text class="tk" transform="matrix(1.0123 0 0 0.9711 1624.09 1472.23)">4000</text>
<text class="tk" transform="matrix(1.0175 0 0 0.9711 1803.88 1472.23)">4500</text>
<text class="lb" transform="matrix(1.0177 0 0 1.0250 940.88 1548.20)">Time</text>
<text class="lb" transform="matrix(0.8785 0 0 1.0250 1092.86 1548.20)">(s)</text>
<text class="lb" transform="translate(90.80 1039.03) rotate(-90) scale(1.0251 1.0250)">Terminal</text>
<text class="lb" transform="translate(90.80 783.32) rotate(-90) scale(1.0249 1.0250)">Voltage</text>
<text class="lb" transform="translate(90.80 556.27) rotate(-90) scale(0.9225 1.0250)">(V)</text>
<text class="dl" transform="matrix(1.2633 0 0 1.0030 1484.54 216.00)">Δ</text>
<text class="lg" transform="matrix(1.1857 0 0 1.0000 1541.81 216.00)">t</text>
<text class="ss" transform="matrix(1.0222 0 0 0.9769 1558.58 193.60)">0</text>
<text class="ss" transform="matrix(1.1222 0 0 0.8947 1556.16 240.88)">+</text>
<text class="ss" transform="matrix(0.7444 0 0 0.9615 1579.51 238.20)">1</text>
<text class="lg" transform="matrix(1.0750 0 0 0.9667 1615.45 219.93)">=</text>
<text class="lg" transform="matrix(0.9968 0 0 0.9794 1657.01 216.20)">0.8</text>
<text class="dl" transform="matrix(1.2433 0 0 1.0030 1728.56 216.00)">Δ</text>
<text class="lg" transform="matrix(1.2286 0 0 1.0000 1785.17 216.00)">t</text>
<text class="ss" transform="matrix(1.0222 0 0 0.9769 1802.18 193.60)">0</text>
<text class="ss" transform="matrix(1.1222 0 0 0.8947 1799.96 240.88)">+</text>
<text class="dl" transform="matrix(1.2633 0 0 1.0030 1484.54 309.75)">Δ</text>
<text class="lg" transform="matrix(1.1857 0 0 1.0000 1541.81 309.75)">t</text>
<text class="ss" transform="matrix(1.0222 0 0 0.9769 1558.58 287.35)">0</text>
<text class="ss" transform="matrix(1.1222 0 0 0.8947 1556.16 334.63)">+</text>
<text class="ss" transform="matrix(0.7444 0 0 0.9615 1579.51 331.95)">1</text>
<text class="lg" transform="matrix(1.0750 0 0 0.9667 1615.45 313.68)">=</text>
<text class="lg" transform="matrix(0.9968 0 0 0.9794 1657.01 309.95)">0.7</text>
<text class="dl" transform="matrix(1.2433 0 0 1.0030 1728.56 309.75)">Δ</text>
<text class="lg" transform="matrix(1.2286 0 0 1.0000 1785.17 309.75)">t</text>
<text class="ss" transform="matrix(1.0222 0 0 0.9769 1802.18 287.35)">0</text>
<text class="ss" transform="matrix(1.1222 0 0 0.8947 1799.96 334.63)">+</text>
<text class="dl" transform="matrix(1.2633 0 0 1.0030 1484.54 403.50)">Δ</text>
<text class="lg" transform="matrix(1.1857 0 0 1.0000 1541.81 403.50)">t</text>
<text class="ss" transform="matrix(1.0222 0 0 0.9769 1558.58 381.10)">0</text>
<text class="ss" transform="matrix(1.1222 0 0 0.8947 1556.16 428.38)">+</text>
<text class="ss" transform="matrix(0.7444 0 0 0.9615 1579.51 425.70)">1</text>
<text class="lg" transform="matrix(1.0750 0 0 0.9667 1615.45 407.43)">=</text>
<text class="lg" transform="matrix(0.9968 0 0 0.9794 1657.01 403.70)">0.6</text>
<text class="dl" transform="matrix(1.2433 0 0 1.0030 1728.56 403.50)">Δ</text>
<text class="lg" transform="matrix(1.2286 0 0 1.0000 1785.17 403.50)">t</text>
<text class="ss" transform="matrix(1.0222 0 0 0.9769 1802.18 381.10)">0</text>
<text class="ss" transform="matrix(1.1222 0 0 0.8947 1799.96 428.38)">+</text>
<text class="dl" transform="matrix(1.2633 0 0 1.0030 1484.54 497.25)">Δ</text>
<text class="lg" transform="matrix(1.1857 0 0 1.0000 1541.81 497.25)">t</text>
<text class="ss" transform="matrix(1.0222 0 0 0.9769 1558.58 474.85)">0</text>
<text class="ss" transform="matrix(1.1222 0 0 0.8947 1556.16 522.13)">+</text>
<text class="ss" transform="matrix(0.7444 0 0 0.9615 1579.51 519.45)">1</text>
<text class="lg" transform="matrix(1.0750 0 0 0.9667 1615.45 501.18)">=</text>
<text class="lg" transform="matrix(0.9968 0 0 0.9794 1657.01 497.45)">0.5</text>
<text class="dl" transform="matrix(1.2433 0 0 1.0030 1728.56 497.25)">Δ</text>
<text class="lg" transform="matrix(1.2286 0 0 1.0000 1785.17 497.25)">t</text>
<text class="ss" transform="matrix(1.0222 0 0 0.9769 1802.18 474.85)">0</text>
<text class="ss" transform="matrix(1.1222 0 0 0.8947 1799.96 522.13)">+</text>
<text class="dl" transform="matrix(1.2633 0 0 1.0030 1484.54 591.00)">Δ</text>
<text class="lg" transform="matrix(1.1857 0 0 1.0000 1541.81 591.00)">t</text>
<text class="ss" transform="matrix(1.0222 0 0 0.9769 1558.58 568.60)">0</text>
<text class="ss" transform="matrix(1.1222 0 0 0.8947 1556.16 615.88)">+</text>
<text class="ss" transform="matrix(0.7444 0 0 0.9615 1579.51 613.20)">1</text>
<text class="lg" transform="matrix(1.0750 0 0 0.9667 1615.45 594.93)">=</text>
<text class="lg" transform="matrix(0.9812 0 0 0.9794 1657.04 591.20)">0.4</text>
<text class="dl" transform="matrix(1.2433 0 0 1.0030 1728.56 591.00)">Δ</text>
<text class="lg" transform="matrix(1.2286 0 0 1.0000 1785.17 591.00)">t</text>
<text class="ss" transform="matrix(1.0222 0 0 0.9769 1802.18 568.60)">0</text>
<text class="ss" transform="matrix(1.1222 0 0 0.8947 1799.96 615.88)">+</text>
</g>
</svg></body></html>
